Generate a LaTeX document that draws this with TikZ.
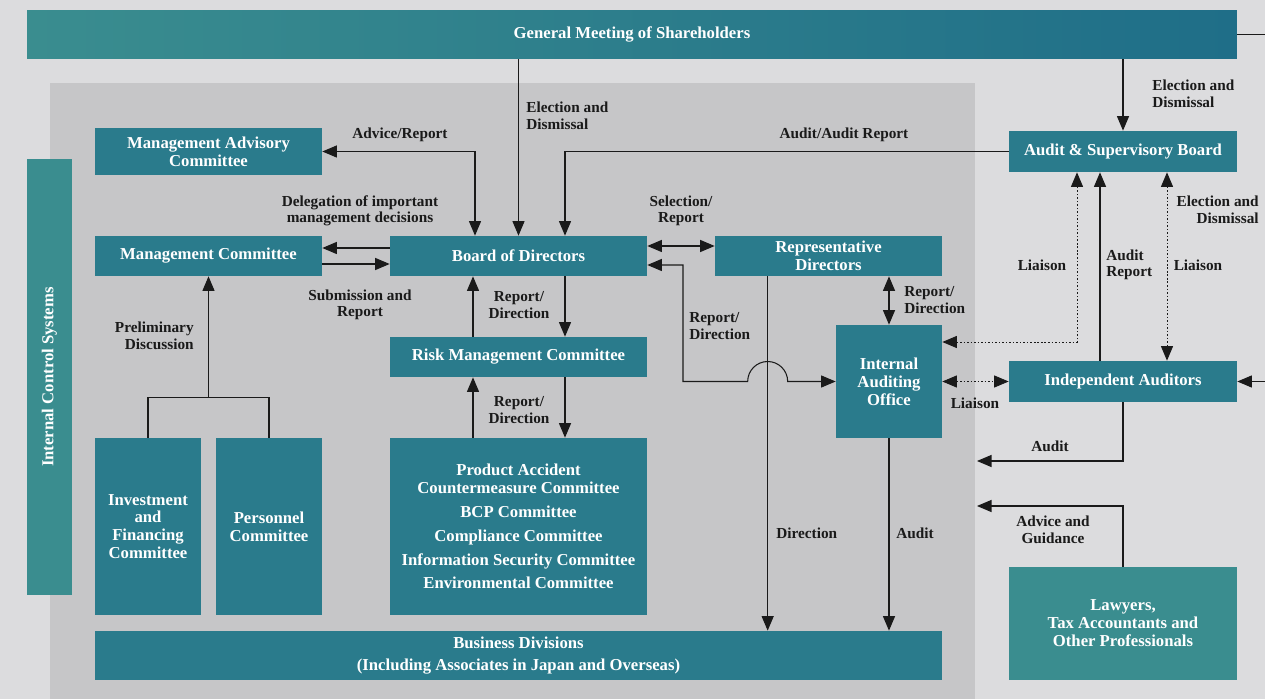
\documentclass[tikz,border=0pt]{standalone}
\usepackage{fontspec}
\setmainfont{Liberation Serif}
\usetikzlibrary{arrows.meta,calc}
\definecolor{BgClr}{HTML}{DCDCDE}
\definecolor{PanelClr}{HTML}{C6C6C8}
\definecolor{BoxClr}{HTML}{2A7B8C}
\definecolor{BoxLtClr}{HTML}{3A8D8F}
\definecolor{BoxDkClr}{HTML}{1F6E88}
\definecolor{LineClr}{HTML}{1A1A1A}

\begin{document}
\begin{tikzpicture}[x=0.02cm,y=-0.02cm,
  box/.style={fill=BoxClr,text=white,align=center,inner sep=0pt,
    font=\fontsize{9.5}{10.2}\selectfont\bfseries},
  lbl/.style={text=LineClr,inner sep=0pt,font=\fontsize{8.7}{9.4}\selectfont\bfseries},
  conn/.style={draw=LineClr,line width=0.6pt},
  liaison/.style={conn,line width=0.5pt,dash pattern=on 0.9pt off 1.1pt},
  >={Triangle[length=2.9mm,width=2.4mm]}]

\fill[BgClr] (0,0) rectangle (1265,699);
\useasboundingbox (0,0) rectangle (1265,699);
\fill[PanelClr] (50,83) rectangle (975,699);

\node[box,left color=BoxLtClr,right color=BoxDkClr,minimum width=24.2cm,minimum height=0.98cm] (gms) at (632,34.5) {General Meeting of Shareholders};
\node[box,fill=BoxLtClr,rotate=90,minimum width=8.72cm,minimum height=0.9cm] (ics) at (49.5,377) {Internal Control Systems};

\node[box,minimum width=4.54cm,minimum height=0.94cm] (mac) at (208.5,151.5) {Management Advisory\\Committee};
\node[box,minimum width=4.54cm,minimum height=0.8cm] (mc) at (208.5,256) {Management Committee};
\node[box,minimum width=5.14cm,minimum height=0.8cm] (bod) at (518.5,256) {Board of Directors};
\node[box,minimum width=4.54cm,minimum height=0.8cm] (rd) at (828.5,256) {Representative\\Directors};
\node[box,minimum width=5.14cm,minimum height=0.8cm] (rmc) at (518.5,357) {Risk Management Committee};
\node[box,minimum width=5.14cm,minimum height=3.54cm] (pac) at (518.5,526.5) {Product Accident\\Countermeasure Committee\\[3.4pt]BCP Committee\\[3.4pt]Compliance Committee\\[3.4pt]Information Security Committee\\[3.4pt]Environmental Committee};
\node[box,minimum width=2.12cm,minimum height=3.54cm] (ifc) at (148,526.5) {Investment\\and\\Financing\\Committee};
\node[box,minimum width=2.12cm,minimum height=3.54cm] (pc) at (269,526.5) {Personnel\\Committee};
\node[box,minimum width=16.94cm,minimum height=0.98cm] (bd) at (518.5,655.5) {Business Divisions\\[2pt](Including Associates in Japan and Overseas)};
\node[box,minimum width=2.12cm,minimum height=2.26cm] (iao) at (889,381.5) {Internal\\Auditing\\Office};
\node[box,minimum width=4.56cm,minimum height=0.82cm] (asb) at (1123,151.5) {Audit \& Supervisory Board};
\node[box,minimum width=4.56cm,minimum height=0.82cm] (ia) at (1123,381.5) {Independent Auditors};
\node[box,fill=BoxLtClr,minimum width=4.56cm,minimum height=2.26cm] (law) at (1123,623.5) {Lawyers,\\Tax Accountants and\\Other Professionals};

\coordinate (dirx) at ($(rd.south west)+(53,0)$);
\coordinate (pd) at ($(ifc.north)+(0,-40)$);
\coordinate (auditend) at (977,461);
\coordinate (adviceend) at (977,506);
\coordinate (gmsout) at (1265,34.5);
\coordinate (iaout) at (1265,381.5);

\draw[conn,->] (gms.south -| bod.north) -- (bod.north);
\draw[conn,->] (gms.south -| asb.north) -- (asb.north);
\draw[conn] (gms.east) -- (gmsout);
\draw[conn,->] (iaout) -- (ia.east);
\draw[conn,<->] (mac.east) -| ($(bod.north)+(-43.5,0)$);
\draw[conn,->] (asb.west) -| ($(bod.north)+(46.5,0)$);
\draw[conn,->] ($(bod.west)+(0,-8)$) -- ($(mc.east)+(0,-8)$);
\draw[conn,->] ($(mc.east)+(0,8)$) -- ($(bod.west)+(0,8)$);
\draw[conn,<->] ($(bod.east)+(0,-10)$) -- ($(rd.west)+(0,-10)$);
\draw[conn,<->] (iao.west) -- ($(dirx |- iao.west)+(20,0)$) arc[start angle=0,end angle=180,radius=0.4cm] -- (683,381.5) |- ($(bod.east)+(0,9)$);
\draw[conn,->] (dirx) -- (dirx |- bd.north);
\draw[conn,<->] (rd.south -| iao.north) -- (iao.north);
\draw[conn,->] (iao.south) -- (iao.south |- bd.north);
\draw[conn,->] ($(rmc.north)+(-45.5,0)$) -- ($(bod.south)+(-45.5,0)$);
\draw[conn,->] ($(bod.south)+(46.5,0)$) -- ($(rmc.north)+(46.5,0)$);
\draw[conn,->] ($(pac.north)+(-45.5,0)$) -- ($(rmc.south)+(-45.5,0)$);
\draw[conn,->] ($(rmc.south)+(46.5,0)$) -- ($(pac.north)+(46.5,0)$);
\draw[conn] (ifc.north) -- (pd) -| (pc.north);
\draw[conn,->] (pd -| mc.south) -- (mc.south);
\draw[liaison,<->] ($(iao.east)+(0,-39.5)$) -| ($(asb.south)+(-46,0)$);
\draw[conn,->] ($(ia.north)+(-23,0)$) -- ($(asb.south)+(-23,0)$);
\draw[liaison,<->] ($(asb.south)+(44,0)$) -- ($(ia.north)+(44,0)$);
\draw[liaison,<->] (iao.east) -- (ia.west);
\draw[conn,->] (ia.south) |- (auditend);
\draw[conn,->] (law.north) |- (adviceend);

\node[lbl,anchor=west,align=left] at (526,116) {Election and\\Dismissal};
\node[lbl,anchor=west,align=left] at (1152,94) {Election and\\Dismissal};
\node[lbl] at (400,135) {Advice/Report};
\node[lbl] at (844,135) {Audit/Audit Report};
\node[lbl,align=center] at (360,211) {Delegation of important\\management decisions};
\node[lbl,align=center] at (360,305) {Submission and\\Report};
\node[lbl,align=center] at (681,211) {Selection/\\Report};
\node[lbl,align=center] at (519,305) {Report/\\Direction};
\node[lbl,align=center] at (519,410) {Report/\\Direction};
\node[lbl,anchor=west,align=left] at (689,326) {Report/\\Direction};
\node[lbl,anchor=west,align=left] at (904,300) {Report/\\Direction};
\node[lbl,anchor=west] at (776,533) {Direction};
\node[lbl,anchor=west] at (896,533) {Audit};
\node[lbl,anchor=east,align=right] at (194,336) {Preliminary\\Discussion};
\node[lbl] at (1042,265) {Liaison};
\node[lbl,anchor=west,align=left] at (1106,265) {Audit\\Report};
\node[lbl] at (1198,265) {Liaison};
\node[lbl,anchor=east,align=right] at (1259,210) {Election and\\Dismissal};
\node[lbl] at (975,403) {Liaison};
\node[lbl] at (1050,446) {Audit};
\node[lbl,align=center] at (1053,530) {Advice and\\Guidance};
\end{tikzpicture}
\end{document}
